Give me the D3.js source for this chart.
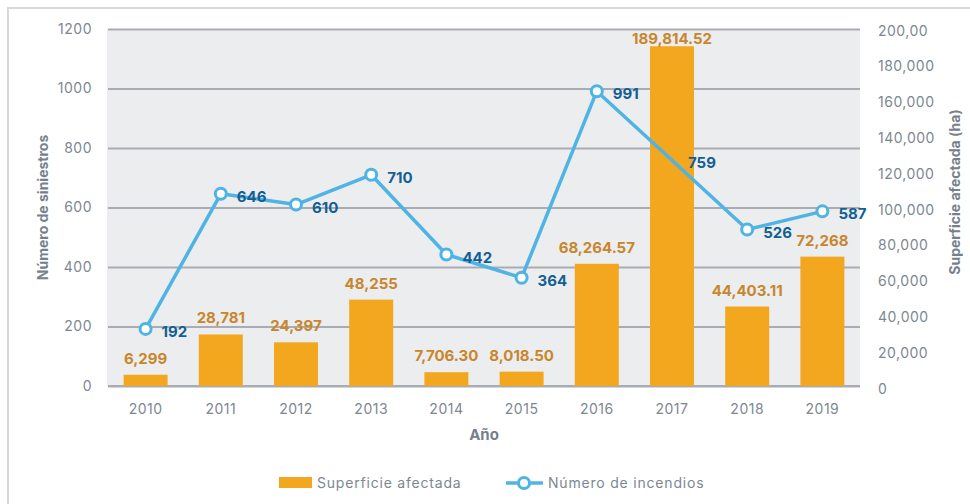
<!DOCTYPE html>
<html>
<head>
<meta charset="utf-8">
<script src="https://cdn.jsdelivr.net/npm/d3@7"></script>
<style>
  body { margin: 0; background: #fff; }
  text { font-family: Inter, "Open Sans", sans-serif; }
</style>
</head>
<body>
<div id="chart"></div>
<script>
// datos
const years = ["2010", "2011", "2012", "2013", "2014", "2015", "2016", "2017", "2018", "2019"];
const superficie = [6299, 28781, 24397, 48255, 7706.30, 8018.50, 68264.57, 189814.52, 44403.11, 72268];
const superficieLabels = ["6,299", "28,781", "24,397", "48,255", "7,706.30", "8,018.50", "68,264.57", "189,814.52", "44,403.11", "72,268"];
const incendios = [192, 646, 610, 710, 442, 364, 991, 759, 526, 587];
const leftTicks = [0, 200, 400, 600, 800, 1000, 1200];
const rightTicks = [0, 20000, 40000, 60000, 80000, 100000, 120000, 140000, 160000, 180000, 200000];
const rightTickLabels = ["0", "20,000", "40,000", "60,000", "80,000", "100,000", "120,000", "140,000", "160,000", "180,000", "200,00"];

const W = 970, H = 504;
const plot = { left: 108, right: 860, top: 29, bottom: 386 };

const svg = d3.select('#chart').append('svg')
    .attr('width', W)
    .attr('height', H);

// marco
svg.append('path')
    .attr('d', `M8,${H} L8,8 L${W},8`)
    .attr('fill', 'none')
    .attr('stroke', '#d8d8d8')
    .attr('stroke-width', 2);

const x = d3.scaleBand()
    .domain(years)
    .range([plot.left, plot.right])
    .paddingInner(0.415)
    .paddingOuter(0.2075);

const yL = d3.scaleLinear().domain([0, 1200]).range([plot.bottom, plot.top]);
const yR = d3.scaleLinear().domain([0, 200000]).range([plot.bottom, plot.top - 1]);

// fondo
svg.append('rect')
    .attr('x', plot.left - 1)
    .attr('y', plot.top)
    .attr('width', plot.right - plot.left + 1)
    .attr('height', plot.bottom - plot.top)
    .attr('fill', '#ecedef');

// rejilla + eje izquierdo
const gL = svg.append('g')
    .attr('transform', `translate(${plot.left},0)`)
    .call(d3.axisLeft(yL)
        .tickValues(leftTicks)
        .tickSize(0)
        .tickPadding(16)
        .tickFormat(d3.format('d')));
gL.select('.domain').remove();
gL.selectAll('.tick line')
    .attr('x2', plot.right - plot.left)
    .attr('stroke', '#a9adb3')
    .attr('stroke-width', 2);
gL.selectAll('.tick text')
    .attr('fill', '#7d8792')
    .style('font-size', '14px')
    .style('letter-spacing', '0.5px')
    .style('font-family', 'Inter, sans-serif');

// eje derecho
const gR = svg.append('g')
    .attr('transform', `translate(${plot.right},0)`)
    .call(d3.axisRight(yR)
        .tickValues(rightTicks)
        .tickSize(0)
        .tickPadding(18)
        .tickFormat((d, i) => rightTickLabels[i]));
gR.select('.domain').remove();
gR.selectAll('.tick text')
    .attr('fill', '#7d8792')
    .attr('dy', '0.5em')
    .style('font-size', '14px')
    .style('letter-spacing', '0.5px')
    .style('font-family', 'Inter, sans-serif');

// eje x
const gX = svg.append('g')
    .attr('transform', `translate(0,${plot.bottom})`)
    .call(d3.axisBottom(x).tickSize(0).tickPadding(18));
gX.select('.domain')
    .attr('stroke', '#a9adb3')
    .attr('stroke-width', 2)
    .attr('d', `M${plot.left},0H${plot.right}`);
gX.selectAll('.tick text')
    .attr('fill', '#7d8792')
    .style('font-size', '14px')
    .style('letter-spacing', '0.5px')
    .style('font-family', 'Inter, sans-serif');

// barras
svg.selectAll('.bar')
    .data(superficie)
  .enter().append('rect')
    .attr('class', 'bar')
    .attr('x', (d, i) => x(years[i]))
    .attr('y', d => yR(d))
    .attr('width', x.bandwidth())
    .attr('height', d => plot.bottom - yR(d))
    .attr('fill', '#f2a71f');

svg.selectAll('.bar-label')
    .data(superficie)
  .enter().append('text')
    .attr('class', 'bar-label')
    .attr('x', (d, i) => x(years[i]) + x.bandwidth() / 2)
    .attr('y', d => Math.max(yR(d) - 11, 44))
    .attr('text-anchor', 'middle')
    .attr('fill', '#c8862c')
    .style('font-size', '15px')
    .style('font-weight', 700)
    .text((d, i) => superficieLabels[i]);

// linea
const cx = i => x(years[i]) + x.bandwidth() / 2;
const line = d3.line()
    .x((d, i) => cx(i))
    .y(d => yL(d));

svg.append('path')
    .datum(incendios)
    .attr('fill', 'none')
    .attr('stroke', '#4fb3e4')
    .attr('stroke-width', 3.5)
    .attr('stroke-linejoin', 'round')
    .attr('d', line);

svg.selectAll('.pt')
    .data(incendios)
  .enter().append('circle')
    .filter((d, i) => years[i] !== '2017') // en el original no se ve el marcador de 2017
    .attr('class', 'pt')
    .attr('cx', d => cx(incendios.indexOf(d)))
    .attr('cy', d => yL(d))
    .attr('r', 5.5)
    .attr('fill', '#fff')
    .attr('stroke', '#4fb3e4')
    .attr('stroke-width', 3);

svg.selectAll('.pt-label')
    .data(incendios)
  .enter().append('text')
    .attr('class', 'pt-label')
    .attr('x', (d, i) => cx(i) + 16)
    .attr('y', d => yL(d) + 8)
    .attr('fill', '#135f93')
    .style('font-size', '15px')
    .style('font-weight', 700)
    .text(d => d);

// titulos
svg.append('text')
    .attr('transform', `translate(48,${(plot.top + plot.bottom) / 2}) rotate(-90)`)
    .attr('text-anchor', 'middle')
    .attr('fill', '#76808c')
    .style('font-size', '14px')
    .style('font-weight', 700)
    .text('Número de siniestros');

svg.append('text')
    .attr('transform', `translate(960,192) rotate(-90)`)
    .attr('text-anchor', 'middle')
    .attr('fill', '#76808c')
    .style('font-size', '14px')
    .style('font-weight', 700)
    .text('Superficie afectada (ha)');

svg.append('text')
    .attr('x', 484)
    .attr('y', 440)
    .attr('text-anchor', 'middle')
    .attr('fill', '#76808c')
    .style('font-size', '15px')
    .style('font-weight', 700)
    .text('Año');

// leyenda
svg.append('rect')
    .attr('x', 279).attr('y', 477)
    .attr('width', 33).attr('height', 11)
    .attr('fill', '#f2a71f');
svg.append('text')
    .attr('x', 317).attr('y', 488)
    .attr('fill', '#7d8792')
    .style('font-size', '14px')
    .style('letter-spacing', '0.8px')
    .text('Superficie afectada');

svg.append('line')
    .attr('x1', 506).attr('x2', 543)
    .attr('y1', 483).attr('y2', 483)
    .attr('stroke', '#4fb3e4')
    .attr('stroke-width', 3.5);
svg.append('circle')
    .attr('cx', 524).attr('cy', 483)
    .attr('r', 5.5)
    .attr('fill', '#fff')
    .attr('stroke', '#4fb3e4')
    .attr('stroke-width', 3);
svg.append('text')
    .attr('x', 548).attr('y', 488)
    .attr('fill', '#7d8792')
    .style('font-size', '14px')
    .style('letter-spacing', '0.8px')
    .text('Número de incendios');
</script>
</body>
</html>
